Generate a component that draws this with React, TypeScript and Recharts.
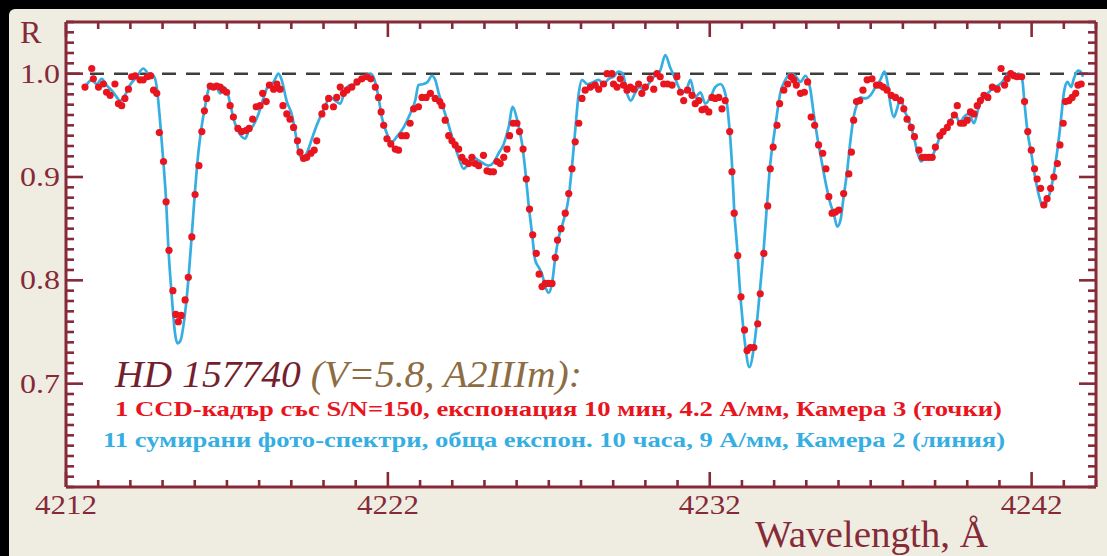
import { ComposedChart, Line, Scatter, XAxis, YAxis, ReferenceLine } from 'recharts';

// blue line: 11 summed photographic spectra
const lineWave = [
  4212.59, 4212.80, 4212.95, 4213.11, 4213.26, 4213.47, 4213.68, 4213.83, 4213.99, 4214.20,
  4214.40, 4214.56, 4214.72, 4214.82, 4214.92, 4215.03, 4215.11, 4215.18, 4215.28, 4215.39,
  4215.46, 4215.56, 4215.67, 4215.80, 4215.91, 4216.01, 4216.11, 4216.22, 4216.32, 4216.42,
  4216.53, 4216.68, 4216.79, 4216.89, 4216.99, 4217.10, 4217.20, 4217.31, 4217.46, 4217.56,
  4217.67, 4217.82, 4217.98, 4218.13, 4218.29, 4218.45, 4218.60, 4218.70, 4218.86, 4219.02,
  4219.12, 4219.22, 4219.33, 4219.48, 4219.64, 4219.79, 4220.00, 4220.21, 4220.36, 4220.52,
  4220.67, 4220.83, 4221.04, 4221.24, 4221.45, 4221.55, 4221.71, 4221.81, 4221.97, 4222.12,
  4222.28, 4222.49, 4222.69, 4222.85, 4222.95, 4223.11, 4223.23, 4223.37, 4223.47, 4223.58,
  4223.73, 4223.89, 4224.04, 4224.20, 4224.35, 4224.51, 4224.66, 4224.82, 4224.97, 4225.13,
  4225.28, 4225.44, 4225.60, 4225.75, 4225.88, 4226.01, 4226.17, 4226.27, 4226.37, 4226.48,
  4226.58, 4226.68, 4226.79, 4226.89, 4226.99, 4227.10, 4227.20, 4227.31, 4227.46, 4227.62,
  4227.72, 4227.82, 4227.93, 4228.03, 4228.19, 4228.39, 4228.55, 4228.70, 4228.86, 4229.01,
  4229.17, 4229.30, 4229.43, 4229.55, 4229.69, 4229.82, 4229.95, 4230.10, 4230.26, 4230.46,
  4230.62, 4230.77, 4230.93, 4231.09, 4231.24, 4231.40, 4231.55, 4231.71, 4231.86, 4232.02,
  4232.17, 4232.33, 4232.48, 4232.59, 4232.69, 4232.76, 4232.85, 4232.93, 4233.02, 4233.11,
  4233.23, 4233.37, 4233.47, 4233.57, 4233.68, 4233.78, 4233.88, 4233.99, 4234.09, 4234.19,
  4234.35, 4234.51, 4234.66, 4234.82, 4234.97, 4235.13, 4235.23, 4235.36, 4235.49, 4235.63,
  4235.75, 4235.85, 4235.96, 4236.06, 4236.16, 4236.27, 4236.37, 4236.47, 4236.58, 4236.68,
  4236.84, 4236.99, 4237.15, 4237.30, 4237.43, 4237.53, 4237.61, 4237.72, 4237.82, 4237.93,
  4238.03, 4238.18, 4238.34, 4238.46, 4238.57, 4238.70, 4238.86, 4239.01, 4239.17, 4239.32,
  4239.48, 4239.64, 4239.77, 4239.89, 4240.05, 4240.21, 4240.36, 4240.52, 4240.67, 4240.83,
  4240.98, 4241.09, 4241.19, 4241.29, 4241.45, 4241.60, 4241.71, 4241.78, 4241.88, 4241.99,
  4242.09, 4242.19, 4242.30, 4242.38, 4242.48, 4242.59, 4242.69, 4242.80, 4242.90, 4243.00,
  4243.11, 4243.23, 4243.31, 4243.44, 4243.52, 4243.60,
];
const lineR = [
  0.987, 0.994, 0.990, 0.995, 0.989, 0.982, 0.974, 0.979, 0.989, 0.997,
  1.005, 1.000, 0.998, 0.987, 0.955, 0.913, 0.877, 0.832, 0.787, 0.748,
  0.739, 0.742, 0.761, 0.800, 0.845, 0.887, 0.923, 0.950, 0.968, 0.984,
  0.989, 0.987, 0.981, 0.987, 0.984, 0.971, 0.957, 0.947, 0.939, 0.937,
  0.944, 0.950, 0.961, 0.976, 0.989, 0.992, 1.000, 0.994, 0.973, 0.960,
  0.944, 0.926, 0.918, 0.923, 0.937, 0.950, 0.965, 0.977, 0.974, 0.971,
  0.984, 0.989, 0.990, 0.997, 1.000, 0.997, 0.977, 0.958, 0.942, 0.934,
  0.939, 0.948, 0.961, 0.974, 0.989, 0.990, 0.992, 0.998, 0.994, 0.981,
  0.966, 0.950, 0.934, 0.919, 0.908, 0.913, 0.919, 0.916, 0.913, 0.911,
  0.914, 0.923, 0.932, 0.948, 0.968, 0.956, 0.932, 0.906, 0.874, 0.845,
  0.819, 0.813, 0.806, 0.794, 0.788, 0.797, 0.822, 0.842, 0.858, 0.881,
  0.910, 0.945, 0.981, 0.994, 0.990, 0.992, 0.994, 0.990, 0.995, 0.997,
  1.002, 1.000, 0.981, 0.974, 0.982, 0.987, 0.984, 0.990, 0.997, 1.003,
  1.018, 1.006, 0.995, 0.984, 0.982, 0.994, 0.977, 0.982, 0.971, 0.977,
  0.987, 0.990, 0.981, 0.955, 0.913, 0.868, 0.832, 0.794, 0.761, 0.735,
  0.716, 0.735, 0.761, 0.794, 0.832, 0.874, 0.913, 0.939, 0.961, 0.981,
  0.994, 1.000, 0.998, 0.992, 0.998, 0.984, 0.961, 0.935, 0.913, 0.890,
  0.874, 0.865, 0.852, 0.858, 0.881, 0.906, 0.935, 0.958, 0.971, 0.977,
  0.976, 0.979, 0.987, 0.994, 1.002, 0.990, 0.971, 0.958, 0.966, 0.977,
  0.966, 0.955, 0.939, 0.923, 0.915, 0.919, 0.918, 0.927, 0.940, 0.947,
  0.955, 0.960, 0.952, 0.958, 0.961, 0.952, 0.968, 0.977, 0.982, 0.987,
  0.989, 0.992, 0.997, 1.000, 0.998, 1.000, 0.994, 0.971, 0.942, 0.923,
  0.903, 0.887, 0.874, 0.871, 0.877, 0.887, 0.903, 0.926, 0.952, 0.981,
  0.992, 0.987, 0.995, 1.003, 1.002, 0.997,
];

// red dots: 1 CCD frame
const dotWave = [
  4212.59, 4212.80, 4212.85, 4213.01, 4213.16, 4213.26, 4213.37, 4213.52, 4213.63, 4213.73,
  4213.83, 4213.94, 4214.04, 4214.15, 4214.30, 4214.40, 4214.53, 4214.63, 4214.72, 4214.82,
  4214.90, 4215.03, 4215.11, 4215.20, 4215.32, 4215.41, 4215.49, 4215.58, 4215.70, 4215.80,
  4215.91, 4216.01, 4216.13, 4216.22, 4216.30, 4216.37, 4216.48, 4216.58, 4216.68, 4216.79,
  4216.89, 4216.99, 4217.10, 4217.20, 4217.34, 4217.46, 4217.59, 4217.69, 4217.80, 4217.91,
  4218.03, 4218.11, 4218.22, 4218.32, 4218.45, 4218.55, 4218.65, 4218.74, 4218.86, 4218.96,
  4219.07, 4219.19, 4219.27, 4219.38, 4219.48, 4219.61, 4219.71, 4219.79, 4219.95, 4220.05,
  4220.16, 4220.31, 4220.41, 4220.52, 4220.62, 4220.73, 4220.88, 4221.04, 4221.19, 4221.35,
  4221.47, 4221.61, 4221.71, 4221.79, 4221.87, 4221.97, 4222.09, 4222.23, 4222.33, 4222.43,
  4222.57, 4222.69, 4222.80, 4222.95, 4223.06, 4223.19, 4223.32, 4223.47, 4223.61, 4223.68,
  4223.78, 4223.89, 4223.99, 4224.09, 4224.20, 4224.30, 4224.40, 4224.51, 4224.61, 4224.71,
  4224.82, 4224.97, 4225.08, 4225.18, 4225.28, 4225.39, 4225.49, 4225.60, 4225.70, 4225.78,
  4225.89, 4226.01, 4226.09, 4226.20, 4226.30, 4226.40, 4226.50, 4226.61, 4226.70, 4226.79,
  4226.89, 4226.99, 4227.10, 4227.20, 4227.27, 4227.38, 4227.51, 4227.62, 4227.72, 4227.82,
  4227.93, 4228.03, 4228.13, 4228.29, 4228.44, 4228.55, 4228.70, 4228.81, 4228.96, 4229.01,
  4229.12, 4229.22, 4229.32, 4229.43, 4229.53, 4229.64, 4229.79, 4229.89, 4230.00, 4230.15,
  4230.26, 4230.36, 4230.46, 4230.57, 4230.69, 4230.83, 4230.98, 4231.09, 4231.19, 4231.31,
  4231.45, 4231.55, 4231.66, 4231.76, 4231.86, 4231.97, 4232.07, 4232.17, 4232.28, 4232.38,
  4232.48, 4232.62, 4232.69, 4232.76, 4232.87, 4232.97, 4233.08, 4233.16, 4233.26, 4233.37,
  4233.49, 4233.57, 4233.68, 4233.80, 4233.88, 4233.97, 4234.09, 4234.17, 4234.30, 4234.42,
  4234.53, 4234.61, 4234.69, 4234.82, 4234.94, 4235.04, 4235.15, 4235.26, 4235.38, 4235.51,
  4235.61, 4235.70, 4235.80, 4235.90, 4236.01, 4236.16, 4236.32, 4236.40, 4236.47, 4236.56,
  4236.66, 4236.76, 4236.89, 4237.04, 4237.18, 4237.28, 4237.39, 4237.51, 4237.64, 4237.77,
  4237.93, 4238.03, 4238.13, 4238.26, 4238.36, 4238.50, 4238.60, 4238.70, 4238.81, 4238.91,
  4239.01, 4239.15, 4239.25, 4239.38, 4239.48, 4239.60, 4239.69, 4239.79, 4239.89, 4240.00,
  4240.10, 4240.21, 4240.31, 4240.41, 4240.52, 4240.64, 4240.78, 4240.93, 4241.05, 4241.16,
  4241.24, 4241.35, 4241.45, 4241.55, 4241.69, 4241.78, 4241.88, 4241.99, 4242.09, 4242.17,
  4242.28, 4242.38, 4242.48, 4242.59, 4242.69, 4242.80, 4242.88, 4242.98, 4243.05, 4243.16,
  4243.26, 4243.37, 4243.44, 4243.54,
];
const dotR = [
  0.987, 1.005, 0.995, 0.987, 0.990, 0.982, 0.979, 0.990, 0.971, 0.969,
  0.976, 0.985, 0.997, 0.998, 0.994, 0.994, 0.997, 0.998, 0.984, 0.981,
  0.943, 0.915, 0.876, 0.829, 0.790, 0.767, 0.760, 0.766, 0.781, 0.803,
  0.842, 0.883, 0.911, 0.944, 0.964, 0.976, 0.988, 0.987, 0.988, 0.987,
  0.984, 0.982, 0.969, 0.958, 0.947, 0.944, 0.945, 0.947, 0.956, 0.968,
  0.969, 0.981, 0.973, 0.989, 0.985, 0.990, 0.985, 0.969, 0.961, 0.956,
  0.948, 0.935, 0.924, 0.918, 0.919, 0.923, 0.926, 0.935, 0.961, 0.968,
  0.976, 0.968, 0.977, 0.987, 0.981, 0.984, 0.987, 0.992, 0.995, 0.997,
  0.995, 0.987, 0.977, 0.963, 0.950, 0.937, 0.932, 0.927, 0.926, 0.940,
  0.940, 0.952, 0.966, 0.968, 0.977, 0.977, 0.981, 0.976, 0.973, 0.969,
  0.955, 0.940, 0.935, 0.931, 0.927, 0.919, 0.915, 0.913, 0.919, 0.913,
  0.911, 0.921, 0.906, 0.905, 0.905, 0.915, 0.913, 0.919, 0.927, 0.940,
  0.952, 0.952, 0.944, 0.927, 0.898, 0.869, 0.844, 0.826, 0.806, 0.794,
  0.797, 0.797, 0.797, 0.822, 0.839, 0.850, 0.865, 0.884, 0.908, 0.934,
  0.952, 0.976, 0.984, 0.987, 0.989, 0.985, 0.990, 1.000, 1.000, 0.990,
  0.987, 0.995, 0.989, 0.984, 0.987, 0.985, 0.990, 0.981, 0.987, 0.995,
  0.985, 1.000, 0.997, 0.990, 0.990, 0.989, 0.997, 0.982, 0.974, 0.984,
  0.979, 0.971, 0.974, 0.965, 0.966, 0.963, 0.977, 0.976, 0.977, 0.966,
  0.974, 0.944, 0.905, 0.865, 0.824, 0.784, 0.752, 0.732, 0.735, 0.735,
  0.758, 0.787, 0.826, 0.872, 0.908, 0.929, 0.950, 0.971, 0.984, 0.990,
  0.997, 0.994, 0.989, 0.981, 0.982, 0.992, 0.958, 0.950, 0.931, 0.923,
  0.908, 0.881, 0.865, 0.866, 0.868, 0.884, 0.903, 0.924, 0.955, 0.973,
  0.974, 0.984, 0.994, 0.995, 0.989, 0.989, 0.987, 0.984, 0.979, 0.977,
  0.974, 0.966, 0.956, 0.948, 0.939, 0.926, 0.919, 0.919, 0.919, 0.919,
  0.929, 0.940, 0.944, 0.948, 0.953, 0.960, 0.969, 0.952, 0.952, 0.955,
  0.963, 0.961, 0.969, 0.974, 0.979, 0.977, 0.987, 0.985, 1.005, 0.989,
  0.995, 1.000, 0.998, 0.997, 0.997, 0.973, 0.944, 0.926, 0.908, 0.898,
  0.889, 0.873, 0.879, 0.889, 0.900, 0.913, 0.931, 0.952, 0.973, 0.974,
  0.977, 0.981, 0.989, 0.990,
];

const xMajor = [4212, 4222, 4232, 4242];
const yMajor = [0.7, 0.8, 0.9, 1.0];
const yMajorLabels = ['0.7', '0.8', '0.9', '1.0'];
const xTicks = Array.from({ length: 33 }, (_, i) => 4212 + i);
const yTicks = Array.from({ length: 46 }, (_, i) => Math.round((0.6 + i * 0.01) * 100) / 100);

const X_MIN = 4212, X_MAX = 4244, Y_MIN = 0.6, Y_MAX = 1.05;
const PLOT_L = 66, PLOT_T = 22, PLOT_W = 1030, PLOT_H = 465;
const tickX = (v: number) => PLOT_L + ((v - X_MIN) / (X_MAX - X_MIN)) * PLOT_W;
const tickY = (v: number) => PLOT_T + ((Y_MAX - v) / (Y_MAX - Y_MIN)) * PLOT_H;

const lineData = lineWave.map((x, i) => ({ x, r: lineR[i] }));
const dotData = dotWave.map((x, i) => ({ x, r: dotR[i] }));

const AXIS = '#862a38';
const BLUE = '#35aee2';
const RED = '#e8141e';
const BEIGE = '#efede1';
const SERIF = '"Liberation Serif", "DejaVu Serif", serif';

const majorYIndex = (v: number) => yMajor.findIndex(m => Math.abs(m - v) < 1e-6);

function BottomLabel({ x, y, payload }: any) {
  if (!xMajor.includes(payload.value)) return <g />;
  return (
    <text x={x} y={y + 27} textAnchor="middle" fontFamily={SERIF} fontSize={28} fill={AXIS}
      textLength={62} lengthAdjust="spacingAndGlyphs">
      {payload.value}
    </text>
  );
}

function LeftLabel({ x, y, payload }: any) {
  const mi = majorYIndex(payload.value);
  if (mi < 0) return <g />;
  return (
    <text x={x - 6} y={y + 9} textAnchor="end" fontFamily={SERIF} fontSize={28} fill={AXIS}
      textLength={40} lengthAdjust="spacingAndGlyphs">
      {yMajorLabels[mi]}
    </text>
  );
}

export default function App() {
  const axisLine = { stroke: AXIS, strokeWidth: 3 };
  const bottom = PLOT_T + PLOT_H;
  const right = PLOT_L + PLOT_W;
  return (
    <div style={{ position: 'absolute', left: 0, top: 0, width: 1107, height: 556, background: '#000', overflow: 'hidden' }}>
      <div style={{ position: 'absolute', left: 9, top: 9, right: 0, bottom: 0, background: BEIGE, borderTopLeftRadius: 6 }} />
      <div style={{ position: 'absolute', left: PLOT_L, top: PLOT_T, width: PLOT_W, height: PLOT_H, background: '#ffffff' }} />
      <div style={{ position: 'absolute', left: 0, top: 0 }}>
        <ComposedChart width={1107} height={556} margin={{ top: 12, right: 1, bottom: 29, left: 6 }}>
          <XAxis type="number" dataKey="x" domain={[X_MIN, X_MAX]} allowDataOverflow ticks={xTicks} interval={0}
            height={40} tickSize={0} tickMargin={0} tickLine={false} axisLine={axisLine}
            tick={(p: any) => <BottomLabel {...p} />} />
          <XAxis xAxisId="top" orientation="top" type="number" dataKey="x" domain={[X_MIN, X_MAX]} allowDataOverflow
            height={10} tick={false} tickLine={false} axisLine={axisLine} />
          <YAxis type="number" dataKey="r" domain={[Y_MIN, Y_MAX]} allowDataOverflow ticks={yTicks} interval={0}
            width={60} tickSize={0} tickMargin={0} tickLine={false} axisLine={axisLine}
            tick={(p: any) => <LeftLabel {...p} />} />
          <YAxis yAxisId="right" orientation="right" type="number" dataKey="r" domain={[Y_MIN, Y_MAX]} allowDataOverflow
            width={10} tick={false} tickLine={false} axisLine={axisLine} />
          <ReferenceLine y={1} stroke="#3d3d3d" strokeWidth={2.5} strokeDasharray="14 10" />
          <Line data={lineData} dataKey="r" type="monotone" stroke={BLUE} strokeWidth={2.7} dot={false}
            activeDot={false} isAnimationActive={false} />
          <Scatter data={dotData} dataKey="r" fill={RED} isAnimationActive={false}
            shape={(p: any) => <circle cx={p.cx} cy={p.cy} r={3.6} fill={RED} />} />
        </ComposedChart>
      </div>
      <svg width={1107} height={556} style={{ position: 'absolute', left: 0, top: 0, pointerEvents: 'none' }}>
        {/* inward tick marks on the four sides of the frame */}
        <g stroke={AXIS} strokeWidth={2.6}>
          {xTicks.map(v => {
            const len = xMajor.includes(v) ? 15 : 7;
            const x = tickX(v);
            return (
              <g key={`x${v}`}>
                <line x1={x} x2={x} y1={bottom} y2={bottom - len} />
                <line x1={x} x2={x} y1={PLOT_T} y2={PLOT_T + len} />
              </g>
            );
          })}
          {yTicks.map(v => {
            const len = majorYIndex(v) >= 0 ? 17 : 8;
            const y = tickY(v);
            return (
              <g key={`y${v}`}>
                <line x1={PLOT_L} x2={PLOT_L + len} y1={y} y2={y} />
                <line x1={right} x2={right - len} y1={y} y2={y} />
              </g>
            );
          })}
        </g>
        <text x={20} y={43} fontFamily={SERIF} fontSize={32} fill={AXIS}>R</text>
        <text x={115} y={387} fontFamily={SERIF} fontSize={38} fontStyle="italic" textLength={467}
          lengthAdjust="spacingAndGlyphs">
          <tspan fill="#741f2e">HD 157740 </tspan>
          <tspan fill="#8c6c42">(V=5.8, A2IIIm):</tspan>
        </text>
        <text x={115} y={416} fontFamily={SERIF} fontSize={21} fontWeight="bold" fill={RED} textLength={887}
          lengthAdjust="spacingAndGlyphs">
          1 CCD-кадър със S/N=150, експонация 10 мин, 4.2 А/мм, Камера 3 (точки)
        </text>
        <text x={103} y={447} fontFamily={SERIF} fontSize={21} fontWeight="bold" fill={BLUE} textLength={902}
          lengthAdjust="spacingAndGlyphs">
          11 сумирани фото-спектри, обща експон. 10 часа, 9 А/мм, Камера 2 (линия)
        </text>
        <text x={755} y={547} fontFamily={SERIF} fontSize={37} fill={AXIS} textLength={233}
          lengthAdjust="spacingAndGlyphs">
          Wavelength, Å
        </text>
      </svg>
    </div>
  );
}
